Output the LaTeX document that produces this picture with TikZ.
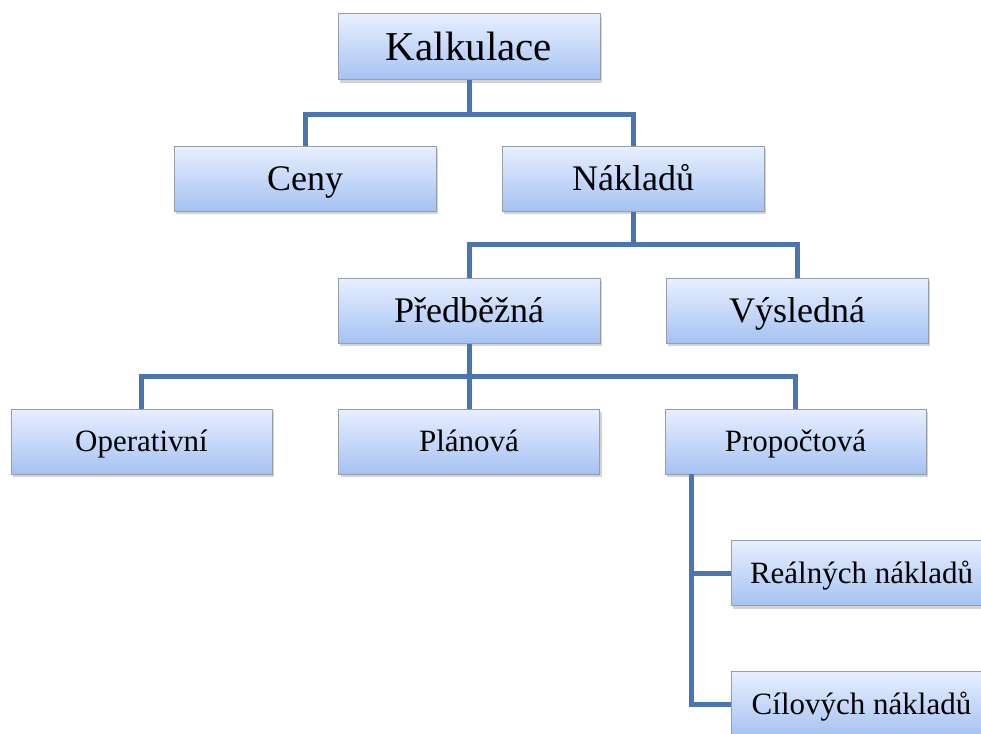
\documentclass[tikz,border=0pt]{standalone}
\usepackage{fontspec}
\setmainfont{Liberation Serif}
\usetikzlibrary{shadows}
\definecolor{boxtop}{RGB}{232,239,255}
\definecolor{boxbot}{RGB}{166,194,242}
\definecolor{boxline}{RGB}{150,158,170}
\definecolor{conncol}{RGB}{74,117,176}
\tikzset{
  box/.style={rectangle, draw=boxline, line width=1pt, top color=boxtop, bottom color=boxbot,
    minimum width=262pt, minimum height=65pt, inner sep=0pt, text=black, text depth=0pt,
    drop shadow={opacity=0.35, shadow xshift=2pt, shadow yshift=-3pt}},
  big/.style={box, font=\fontsize{41}{45}\selectfont, minimum height=66pt, text height=27pt},
  mid/.style={box, font=\fontsize{36}{40}\selectfont, text height=24pt},
  small/.style={box, font=\fontsize{31}{35}\selectfont, minimum width=261pt, text height=20.5pt},
  conn/.style={draw=conncol, line width=5pt}
}
\begin{document}
\begin{tikzpicture}[x=1pt,y=-1pt]
\useasboundingbox (0,0) rectangle (981,733);
\node[big] (kal) at (469,47) {Kalkulace};
\node[mid] (ceny) at (305,178.5) {Ceny};
\node[mid] (nak) at (633,178.5) {Nákladů};
\node[mid] (pred) at (469,310.5) {Předběžná};
\node[mid] (vys) at (797,310.5) {Výsledná};
\node[small] (oper) at (141.5,441.5) {Operativní};
\node[small] (plan) at (469,441.5) {Plánová};
\node[small] (prop) at (795.5,441.5) {Propočtová};
\node[small] (real) at (861.5,573) {Reálných nákladů};
\node[small] (cil) at (861.5,704) {Cílových nákladů};
\coordinate (pv) at (691,474);
\draw[conn] (kal.south) -- ++(0,34) -| (ceny.north);
\draw[conn] (kal.south) -- ++(0,34) -| (nak.north);
\draw[conn] (nak.south) -- ++(0,33) -| (pred.north);
\draw[conn] (nak.south) -- ++(0,33) -| (vys.north);
\draw[conn] (pred.south) -- ++(0,33) -| (oper.north);
\draw[conn] (pred.south) -- ++(0,33) -| (plan.north);
\draw[conn] (pred.south) -- ++(0,33) -| (prop.north);
\draw[conn] (pv) |- (real.west);
\draw[conn] (pv) |- (cil.west);
\end{tikzpicture}
\end{document}
